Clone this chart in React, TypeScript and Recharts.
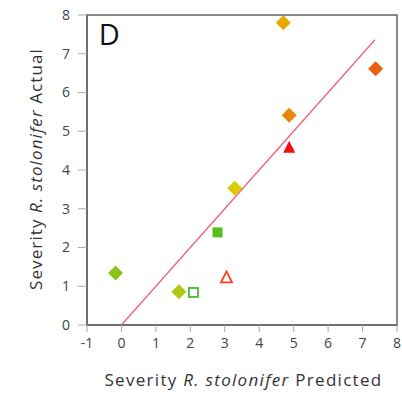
import React from 'react';
import { ScatterChart, Scatter, XAxis, YAxis, ReferenceLine, ReferenceArea, Label } from 'recharts';

const predicted = [4.7, 7.38, 4.87, 4.87, 3.29, 2.79, -0.17, 1.67, 2.09, 3.05];
const actual = [7.8, 6.61, 5.41, 4.6, 3.53, 2.39, 1.34, 0.86, 0.84, 1.24];
const markers = ['diamond', 'diamond', 'diamond', 'triangle', 'diamond', 'square', 'diamond', 'diamond', 'openSquare', 'openTriangle'];
const colors = ['#E8A800', '#EA5E0C', '#E8860C', '#F20E0E', '#D6CC00', '#5CBE1E', '#8CC31A', '#B2C814', '#44BB33', '#FF4020'];
const fitX = [0, 7.36];
const fitY = [0, 7.36];
const xTicks = [-1, 0, 1, 2, 3, 4, 5, 6, 7, 8];
const yTicks = [0, 1, 2, 3, 4, 5, 6, 7, 8];

const data = predicted.map((x, i) => ({ x, y: actual[i], marker: markers[i], color: colors[i] }));

const FONT = '"Open Sans", "DejaVu Sans", sans-serif';

const Marker = (props: any) => {
  const { cx, cy, payload } = props;
  const c = payload.color;
  switch (payload.marker) {
    case 'diamond': {
      const r = 7.5;
      return <polygon points={`${cx},${cy - r} ${cx + r},${cy} ${cx},${cy + r} ${cx - r},${cy}`} fill={c} />;
    }
    case 'triangle': {
      const h = 6;
      return <polygon points={`${cx},${cy - h} ${cx + h},${cy + h} ${cx - h},${cy + h}`} fill={c} />;
    }
    case 'openTriangle': {
      const h = 5.5;
      return <polygon points={`${cx},${cy - h} ${cx + h},${cy + h} ${cx - h},${cy + h}`} fill="none" stroke={c} strokeWidth={1.8} />;
    }
    case 'square': {
      const s = 5;
      return <rect x={cx - s} y={cy - s} width={2 * s} height={2 * s} fill={c} />;
    }
    case 'openSquare': {
      const s = 4.5;
      return <rect x={cx - s} y={cy - s} width={2 * s} height={2 * s} fill="none" stroke={c} strokeWidth={1.8} />;
    }
    default:
      return null;
  }
};

const YLabel = (props: any) => {
  const cx = 35;
  const cy = 169;
  return (
    <text x={cx} y={cy} transform={`rotate(-90 ${cx} ${cy})`} textAnchor="middle" dominantBaseline="central"
      fontFamily={FONT} fontSize={17} letterSpacing={1.1} fill="#333">
      <tspan>Severity </tspan>
      <tspan fontStyle="italic">R. stolonifer</tspan>
      <tspan> Actual</tspan>
    </text>
  );
};

const XLabel = (props: any) => {
  return (
    <text x={243.5} y={386} textAnchor="middle" fontFamily={FONT} fontSize={17} letterSpacing={1.3} fill="#333">
      <tspan>Severity </tspan>
      <tspan fontStyle="italic">R. stolonifer</tspan>
      <tspan> Predicted</tspan>
    </text>
  );
};

export default function App() {
  return (
    <div style={{ position: 'absolute', left: 0, top: 0, width: 402, height: 397, background: '#fff' }}>
      <ScatterChart width={402} height={397} margin={{ top: 15, right: 5, bottom: 0, left: 0 }}>
        <XAxis type="number" dataKey="x" domain={[-1, 8]} ticks={xTicks} allowDataOverflow
          height={72} tickSize={7} tickMargin={6} stroke="#999"
          axisLine={{ stroke: '#666', strokeWidth: 1.5 }} tickLine={{ stroke: '#aaa' }}
          tick={{ fill: '#444', fontSize: 14, fontFamily: FONT }}>
          <Label content={<XLabel />} />
        </XAxis>
        <YAxis type="number" dataKey="y" domain={[0, 8]} ticks={yTicks} allowDataOverflow
          width={87} tickSize={9} tickMargin={8} stroke="#999"
          axisLine={{ stroke: '#666', strokeWidth: 1.5 }} tickLine={{ stroke: '#aaa' }}
          tick={{ fill: '#444', fontSize: 14, fontFamily: FONT }}>
          <Label content={<YLabel />} />
        </YAxis>
        <ReferenceArea x1={-1} x2={8} y1={0} y2={8} fill="none" stroke="#666" strokeWidth={1.5} ifOverflow="visible" />
        <ReferenceLine segment={[{ x: fitX[0], y: fitY[0] }, { x: fitX[1], y: fitY[1] }]} stroke="#F2607A" strokeWidth={1.3} />
        <ReferenceLine x={-0.6} stroke="none" label={{ value: 'D', position: 'insideTopLeft', offset: 0, fill: '#111', fontSize: 29, fontFamily: FONT, dy: 9, dx: -2 }} />
        <Scatter data={data} shape={<Marker />} isAnimationActive={false} />
      </ScatterChart>
    </div>
  );
}
